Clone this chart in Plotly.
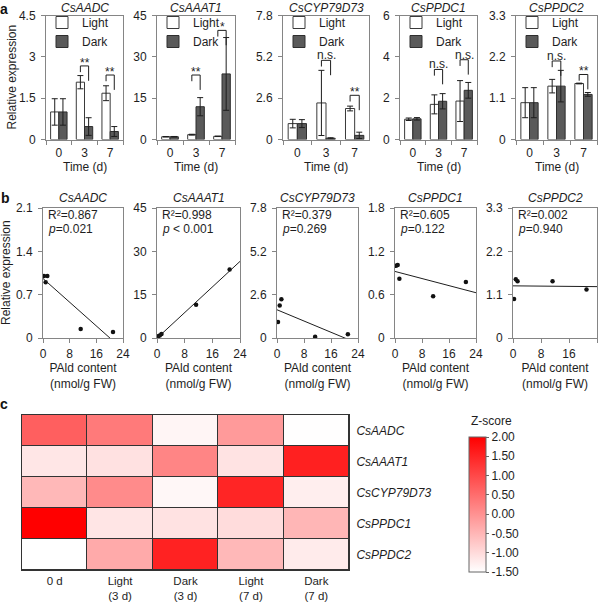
import numpy as np
import plotly.graph_objects as go

# ---------------- data ----------------
genes = ["CsAADC", "CsAAAT1", "CsCYP79D73", "CsPPDC1", "CsPPDC2"]
days = ["0", "3", "7"]

# panel a: relative expression (mean, error) under Light / Dark
light_mean = [
    [1.00, 2.08, 1.68],
    [1.00, 1.75, 1.15],
    [1.00, 2.30, 1.95],
    [0.98, 1.70, 1.86],
    [0.98, 1.42, 1.49],
]
light_err = [
    [0.48, 0.24, 0.27],
    [0.08, 0.15, 0.08],
    [0.27, 2.05, 0.15],
    [0.06, 0.46, 0.99],
    [0.40, 0.18, 0.01],
]
dark_mean = [
    [1.00, 0.47, 0.29],
    [1.00, 11.9, 23.8],
    [1.00, 0.08, 0.26],
    [1.00, 1.85, 2.38],
    [0.98, 1.42, 1.20],
]
dark_err = [
    [0.48, 0.32, 0.18],
    [0.10, 3.30, 13.2],
    [0.25, 0.03, 0.20],
    [0.06, 0.37, 0.38],
    [0.40, 0.42, 0.05],
]
sig_days = ["3", "7"]
sig_label = [["**", "**"], ["**", "*"], ["n.s.", "**"], ["n.s.", "n.s."], ["n.s.", "**"]]
sig_level = [[2.67, 2.34], [23.4, 39.6], [4.98, 2.78], [3.39, 3.86], [2.09, 1.73]]
ymax_a = [4.5, 45, 7.8, 6, 3.3]

# panel b: expression vs PAld content (samples: 0 d, L3, D3, L7, D7)
pald = [0.3, 1.3, 11.3, 0.8, 21.0]
expr_b = [
    [1.00, 1.00, 0.145, 0.90, 0.097],
    [0.60, 1.40, 11.5, 0.90, 23.7],
    [0.96, 2.32, 0.08, 1.95, 0.23],
    [1.00, 0.82, 0.577, 1.01, 0.775],
    [0.99, 1.44, 1.44, 1.49, 1.23],
]
r2_text = ["0.867", "0.998", "0.379", "0.605", "0.002"]
p_text = ["=0.021", " < 0.001", "=0.269", "=0.122", "=0.940"]
ymax_b = [2.1, 45, 7.8, 1.8, 3.3]
xticks_b = [0, 8, 16, 24]

# panel c: heatmap z-scores
hm_cols = ["0 d", "Light<br>(3 d)", "Dark<br>(3 d)", "Light<br>(7 d)", "Dark<br>(7 d)"]
hm_z = [
    [0.70, 0.33, -1.36, -0.11, -1.49],
    [-1.16, -1.09, 0.17, -1.12, 1.56],
    [-0.53, 0.09, -1.39, 1.49, -1.27],
    [2.00, -1.14, -1.10, -1.02, -0.50],
    [-1.50, -0.33, 1.53, -0.53, -1.23],
]
cb_ticks = [-1.5, -1.0, -0.5, 0.0, 0.5, 1.0, 1.5, 2.0]

# ---------------- layout helpers ----------------
W, H = 600, 602
def px(x):
    return x / W
def py(y):
    return 1 - y / H

FONT = "Liberation Sans, Arial, sans-serif"
TXT = "#1e1e1e"
AXC = "#858585"

a_xdom = [(46, 123), (157, 235), (283, 369), (400, 477), (516, 597)]
a_ydom = (15.5, 139.5)
b_xdom = [(43, 123), (157, 240), (277, 358), (395, 476), (513, 597)]
b_ydom = (208, 338)

fig = go.Figure()
layout = dict(
    template="none",
    width=W, height=H, margin=dict(l=0, r=0, t=0, b=0, pad=0, autoexpand=False),
    paper_bgcolor="white", plot_bgcolor="white",
    barmode="group", bargap=0.36, bargroupgap=0,
    font=dict(family=FONT, size=12, color=TXT),
)
annotations = []
shapes = []

def ax_name(n):
    return ("x", "y") if n == 1 else (f"x{n}", f"y{n}")

def fmt(v):
    s = f"{v:.2f}".rstrip("0").rstrip(".")
    return s

def note(text, x, y, xa="center", ya="middle", **kw):
    d = dict(text=text, xref="paper", yref="paper", x=px(x), y=py(y),
             xanchor=xa, yanchor=ya, showarrow=False, font=dict(size=12))
    d.update(kw)
    annotations.append(d)

# ---------------- panel a ----------------
for i, g in enumerate(genes):
    n = i + 1
    xa, ya = ax_name(n)
    leg = "legend" if n == 1 else f"legend{n}"
    fig.add_trace(go.Bar(
        x=days, y=light_mean[i], name="Light", xaxis=xa, yaxis=ya, legend=leg,
        marker=dict(color="white", line=dict(color="#3a3a3a", width=1)),
        error_y=dict(type="data", array=light_err[i], color="#1e1e1e", thickness=1, width=3),
    ))
    fig.add_trace(go.Bar(
        x=days, y=dark_mean[i], name="Dark", xaxis=xa, yaxis=ya, legend=leg,
        marker=dict(color="#5a5a5a", line=dict(color="#2e2e2e", width=1)),
        error_y=dict(type="data", array=dark_err[i], color="#1e1e1e", thickness=1, width=3),
    ))
    ymax = ymax_a[i]
    tv = [ymax * k / 3 for k in range(4)]
    layout["xaxis" if n == 1 else f"xaxis{n}"] = dict(
        domain=[px(a_xdom[i][0]), px(a_xdom[i][1])], anchor=ya, automargin=False,
        type="category", categoryorder="array", categoryarray=days,
        range=[-0.5, len(days) - 0.5], tickangle=0,
        tickson="boundaries", ticks="outside", ticklen=4, tickcolor=AXC,
        showline=True, linecolor=AXC, linewidth=1, mirror=True,
        showgrid=False, zeroline=False, ticklabelstandoff=2,
        tickfont=dict(size=12),
    )
    layout["yaxis" if n == 1 else f"yaxis{n}"] = dict(
        domain=[py(a_ydom[1]), py(a_ydom[0])], anchor=xa, automargin=False,
        range=[0, ymax], tickvals=tv, ticktext=[fmt(v) for v in tv],
        ticks="outside", ticklen=4, tickcolor=AXC,
        showline=True, linecolor=AXC, linewidth=1, mirror=True,
        showgrid=False, zeroline=False, ticklabelstandoff=3,
        tickfont=dict(size=12),
    )
    layout[leg] = dict(
        x=px(a_xdom[i][0] - 4), y=py(8), xanchor="left", yanchor="top",
        bgcolor="rgba(0,0,0,0)", font=dict(size=12), itemwidth=30,
        tracegroupgap=0, traceorder="normal",
    )
    cx = (a_xdom[i][0] + a_xdom[i][1]) / 2
    note(f"<i>{g}</i>", cx, 0, ya="top", borderpad=0)
    note("Time (d)", cx, 167)
    # significance brackets
    for k, d in enumerate(sig_days):
        di = days.index(d)
        h = sig_level[i][k]
        x0, x1 = di - 0.16, di + 0.16
        dl, dr = 0.05 * ymax, 0.12 * ymax
        for (xs0, ys0, xs1, ys1) in [(x0, h - dl, x0, h), (x0, h, x1, h), (x1, h, x1, h - dr)]:
            shapes.append(dict(type="line", xref=xa, yref=ya, x0=xs0, y0=ys0, x1=xs1, y1=ys1,
                               line=dict(color="#1e1e1e", width=1)))
        lab = sig_label[i][k]
        annotations.append(dict(
            text=lab, xref=xa, yref=ya, x=di, y=h, xanchor="center", yanchor="bottom",
            yshift=-5 if "*" in lab else -3, borderpad=0, showarrow=False, font=dict(size=12),
        ))

note("Relative expression", 11, (a_ydom[0] + a_ydom[1]) / 2, textangle=-90)

# ---------------- panel b ----------------
for i, g in enumerate(genes):
    n = 6 + i
    xa, ya = ax_name(n)
    fig.add_trace(go.Scatter(
        x=pald, y=expr_b[i], mode="markers", xaxis=xa, yaxis=ya, showlegend=False,
        marker=dict(color="#111111", size=4.5),
    ))
    coef = np.polyfit(pald, expr_b[i], 1)
    xs = [xticks_b[0], xticks_b[-1]]
    fig.add_trace(go.Scatter(
        x=xs, y=list(np.polyval(coef, xs)), mode="lines", xaxis=xa, yaxis=ya,
        showlegend=False, line=dict(color="#1e1e1e", width=1),
    ))
    ymax = ymax_b[i]
    tv = [ymax * k / 3 for k in range(4)]
    layout[f"xaxis{n}"] = dict(
        domain=[px(b_xdom[i][0]), px(b_xdom[i][1])], anchor=ya, automargin=False,
        range=[xticks_b[0], xticks_b[-1]], tickvals=xticks_b,
        ticks="outside", ticklen=4, tickcolor=AXC,
        showline=True, linecolor=AXC, linewidth=1, mirror=True,
        showgrid=False, zeroline=False, ticklabelstandoff=1,
        tickfont=dict(size=12),
        title=dict(text="PAld content<br>(nmol/g FW)", standoff=1, font=dict(size=12)),
    )
    layout[f"yaxis{n}"] = dict(
        domain=[py(b_ydom[1]), py(b_ydom[0])], anchor=xa, automargin=False,
        range=[0, ymax], tickvals=tv, ticktext=[fmt(v) for v in tv],
        ticks="outside", ticklen=4, tickcolor=AXC,
        showline=True, linecolor=AXC, linewidth=1, mirror=True,
        showgrid=False, zeroline=False, ticklabelstandoff=3,
        tickfont=dict(size=12),
    )
    note(f"<i>{g}</i>", (b_xdom[i][0] + b_xdom[i][1]) / 2, b_ydom[0], ya="bottom", yshift=1)
    note(f"R\u00b2={r2_text[i]}", b_xdom[i][0] + 3, 215, xa="left")
    note(f"<i>p</i>{p_text[i]}", b_xdom[i][0] + 3, 228.5, xa="left")

note("Relative expression", 6, (b_ydom[0] + b_ydom[1]) / 2, textangle=-90)

# ---------------- panel c ----------------
fig.add_trace(go.Heatmap(
    z=hm_z, x=hm_cols, y=genes, xaxis="x11", yaxis="y11",
    colorscale=[[0, "#ffffff"], [1, "#ff0000"]], zmin=-1.5, zmax=2.0,
    xgap=1, ygap=1, showscale=True, hoverinfo="z",
    colorbar=dict(
        x=px(469), xanchor="left", y=py(572), yanchor="bottom",
        len=135, lenmode="pixels", thickness=17, thicknessmode="pixels",
        outlinecolor="#666666", outlinewidth=1, xpad=0, ypad=0,
        tickvals=cb_ticks, ticktext=[f"{v:.2f}" for v in cb_ticks],
        ticks="outside", ticklen=3,
        tickcolor="#666666", tickfont=dict(size=12),
    ),
))
note("Z-score", 491, 421)
layout["xaxis11"] = dict(
    domain=[px(22), px(349)], anchor="y11", type="category", automargin=False,
    ticks="", showline=True, linecolor="#333333", linewidth=1, mirror=True,
    showgrid=False, zeroline=False, ticklabelstandoff=0, tickfont=dict(size=11.5),
)
layout["yaxis11"] = dict(
    domain=[py(570), py(415)], anchor="x11", type="category", autorange="reversed",
    automargin=False,
    side="right", tickvals=genes, ticktext=[f"<i>{g}</i>" for g in genes],
    ticks="", showline=True, linecolor="#333333", linewidth=1, mirror=True,
    showgrid=False, zeroline=False, ticklabelstandoff=4, tickfont=dict(size=12),
)
shapes.append(dict(type="rect", xref="x11 domain", yref="y11 domain", x0=0, x1=1, y0=0, y1=1,
                   fillcolor="#333333", line=dict(width=0), layer="below"))

# panel letters
note("<b>a</b>", 4, 0, ya="top", borderpad=0, font=dict(size=14, color="#111111"))
note("<b>b</b>", 5, 198, font=dict(size=14, color="#111111"))
note("<b>c</b>", 4, 404, font=dict(size=14, color="#111111"))

layout["annotations"] = annotations
layout["shapes"] = shapes
fig.update_layout(**layout)
fig.write_html("out.html")
